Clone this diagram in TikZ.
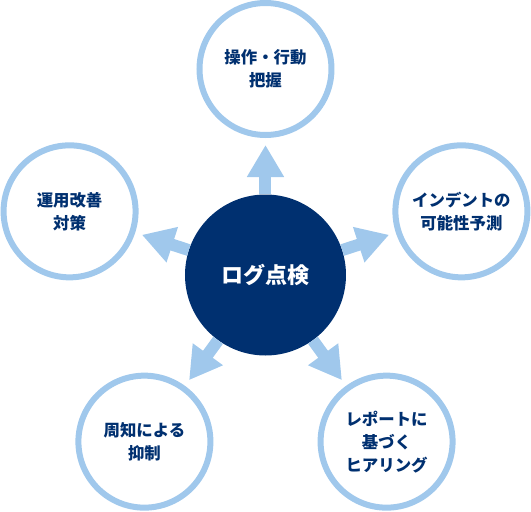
\documentclass[tikz,border=0pt]{standalone}
\usepackage{fontspec}
\setmainfont{Noto Sans CJK JP}
\usepackage{xcolor}
\usepackage{tikz}
\usetikzlibrary{arrows.meta,calc}
\definecolor{lognavy}{RGB}{0,48,112}
\definecolor{logsky}{RGB}{160,200,236}

\begin{document}
\begin{tikzpicture}[
  hub/.style={circle, fill=lognavy, text=white, minimum size=161pt, inner sep=0pt,
              font=\fontsize{22pt}{26pt}\selectfont\bfseries},
  item/.style={circle, draw=logsky, line width=6pt, fill=white, minimum size=132pt,
               inner sep=0pt, align=center, text=lognavy,
               font=\fontsize{16.4pt}{23pt}\selectfont\bfseries},
  flow/.style={draw=logsky, line width=12pt, shorten >=7pt,
               -{Triangle[width=35pt, length=32pt]}},
]
\useasboundingbox (-265.5pt,-237pt) rectangle (265.5pt,275pt);

\node[hub] (log) at (0,0) {ログ点検};
\node[item] (ops) at ([shift={(90:206pt)}]log.center) {操作・行動\\把握};
\node[item] (indent) at ([shift={(18:206pt)}]log.center) {インデントの\\可能性予測};
\node[item] (hearing) at ([shift={(-54:206pt)}]log.center) {レポートに\\基づく\\ヒアリング};
\node[item] (notice) at ([shift={(-126:206pt)}]log.center) {周知による\\抑制};
\node[item] (improve) at ([shift={(162:206pt)}]log.center) {運用改善\\対策};

\foreach \t in {ops,indent,hearing,notice,improve}
  \draw[flow] (log) -- (\t);
\end{tikzpicture}
\end{document}
